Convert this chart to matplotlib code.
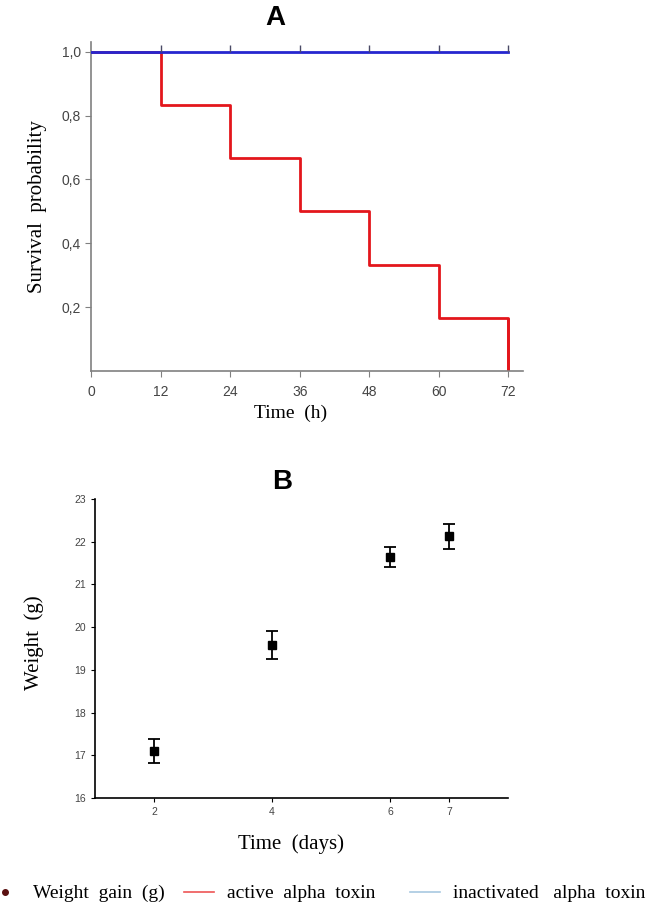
import numpy as np
import matplotlib.pyplot as plt
from matplotlib.lines import Line2D

# panel A: survival
surv_time = [0, 12, 24, 36, 48, 60, 72]
surv_active = [1.0, 0.833, 0.667, 0.5, 0.333, 0.167, 0.0]
surv_inactive = [1.0, 1.0, 1.0, 1.0, 1.0, 1.0, 1.0]
censor_time = [12, 24, 36, 48, 60, 72]
a_yticks = [0.2, 0.4, 0.6, 0.8, 1.0]
a_ylabels = ['0,2', '0,4', '0,6', '0,8', '1,0']

# panel B: weight
days = [2, 4, 6, 7]
weight = [17.1, 19.58, 21.64, 22.13]
weight_err = [0.28, 0.33, 0.23, 0.29]

serif = 'Liberation Serif'
sans = 'Liberation Sans'

fig = plt.figure(figsize=(6.6, 9.09), dpi=100)

ax1 = fig.add_axes([0.138, 0.592, 0.654, 0.362])
ax1.step(surv_time, surv_inactive, where='post', color='#2626cf', lw=2, zorder=3)
ax1.step(surv_time, surv_active, where='post', color='#e3161c', lw=2, zorder=2)
ax1.vlines(surv_time[-1], 0, surv_active[-2], color='#e3161c', lw=2)
ax1.plot(censor_time, [1.0] * len(censor_time), ls='none', marker=2, ms=5,
         mew=1, color='#4a4a66', zorder=4)
ax1.set_xlim(0, 74.5)
ax1.set_ylim(0, 1.031)
ax1.set_xticks(surv_time)
ax1.set_yticks(a_yticks)
ax1.set_yticklabels(a_ylabels)
for s in ['top', 'right']:
    ax1.spines[s].set_visible(False)
for s in ['left', 'bottom']:
    ax1.spines[s].set_color('#808080')
    ax1.spines[s].set_linewidth(1.2)
ax1.tick_params(colors='#808080', labelcolor='#444444', labelsize=10, length=4)
ax1.tick_params(axis='x', pad=6)
for lab in ax1.get_xticklabels() + ax1.get_yticklabels():
    lab.set_family(sans)
ax1.set_ylabel('Survival  probability', family=serif, fontsize=15, labelpad=10)
ax1.set_xlabel('Time  (h)', family=serif, fontsize=14, labelpad=4)
ax1.xaxis.label.set_x(0.463)
ax1.set_title('A', family=sans, fontweight='bold', fontsize=20, pad=12, x=0.426)

ax2 = fig.add_axes([0.144, 0.122, 0.626, 0.329])
ax2.errorbar(days, weight, yerr=weight_err, fmt='s', color='black', ms=6,
             capsize=4, elinewidth=1.3, capthick=1.3)
ax2.set_xlim(1, 8)
ax2.set_ylim(16, 23)
ax2.set_xticks(days)
ax2.set_yticks(range(16, 24))
for s in ['top', 'right']:
    ax2.spines[s].set_visible(False)
for s in ['left', 'bottom']:
    ax2.spines[s].set_linewidth(1.2)
ax2.tick_params(labelsize=7.5, length=3, labelcolor='#444444')
for lab in ax2.get_xticklabels() + ax2.get_yticklabels():
    lab.set_family(sans)
ax2.set_ylabel('Weight  (g)', family=serif, fontsize=15, labelpad=22)
ax2.yaxis.label.set_y(0.52)
ax2.set_xlabel('Time  (days)', family=serif, fontsize=15, labelpad=12)
ax2.xaxis.label.set_x(0.475)
ax2.set_title('B', family=sans, fontweight='bold', fontsize=20, pad=7, x=0.453)

handles = [
    Line2D([], [], ls='none', marker='o', ms=4, color='#5a1010'),
    Line2D([], [], color='#ee5555', lw=1.2),
    Line2D([], [], color='#a8c8e0', lw=1.2),
]
labels = ['Weight  gain  (g)', 'active  alpha  toxin   ', 'inactivated   alpha  toxin']
fig.legend(handles, labels, loc='center left', bbox_to_anchor=(-0.015, 0.017), ncol=3,
           frameon=False, prop={'family': serif, 'size': 14}, handlelength=1.54,
           columnspacing=1.0, handletextpad=0.67, borderpad=0, borderaxespad=0)

fig.savefig('out.png', dpi=100)
